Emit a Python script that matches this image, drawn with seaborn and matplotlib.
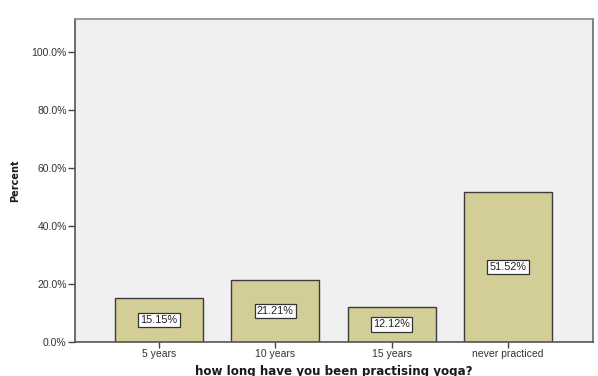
import matplotlib
matplotlib.use("Agg")
import matplotlib.pyplot as plt
import seaborn as sns

categories = ["5 years", "10 years", "15 years", "never practiced"]
percents = [15.15, 21.21, 12.12, 51.52]
y_ticks = [0, 20, 40, 60, 80, 100]

sns.set_theme(style="white")
plt.rcParams["font.family"] = ["Liberation Sans", "DejaVu Sans"]

fig = plt.figure(figsize=(5.98, 3.76), dpi=100)
ax = fig.add_axes([0.1254, 0.0904, 0.8657, 0.859])
ax.set_facecolor("#f0f0f0")

sns.barplot(x=categories, y=percents, color="#d3ce97", saturation=1,
            width=0.756, edgecolor="#3c3c3c", linewidth=1.0, ax=ax)

for i, v in enumerate(percents):
    ax.text(i, v / 2, f"{v:.2f}%", ha="center", va="center",
            fontsize=7.8, color="#222222",
            bbox=dict(boxstyle="square,pad=0.2", facecolor="white",
                      edgecolor="#333333", linewidth=0.9))

ax.set_xlim(-0.722, 3.728)
ax.set_ylim(0, 111.2)
ax.set_yticks(y_ticks)
ax.set_yticklabels([f"{t:.1f}%" for t in y_ticks])
ax.tick_params(axis="y", which="major", left=True, length=5, width=1,
               color="#444444", labelsize=7.5, labelcolor="#333333", pad=1)
ax.tick_params(axis="x", which="major", bottom=True, length=4, width=1,
               color="#444444", labelsize=7.5, labelcolor="#333333", pad=1)

ax.set_xlabel("how long have you been practising yoga?", fontsize=8.6,
              fontweight="bold", color="#1a1a1a", labelpad=4,
              family=["DejaVu Sans"])
ax.set_ylabel("Percent", fontsize=7.0, fontweight="bold",
              color="#1a1a1a", labelpad=8, family=["DejaVu Sans"])

for side, col in [("left", "#555555"), ("bottom", "#555555"),
                  ("top", "#8a8a8a"), ("right", "#6a6a6a")]:
    ax.spines[side].set_visible(True)
    ax.spines[side].set_color(col)
    ax.spines[side].set_linewidth(1.2)

fig.savefig("out.png", dpi=100, facecolor="white")
